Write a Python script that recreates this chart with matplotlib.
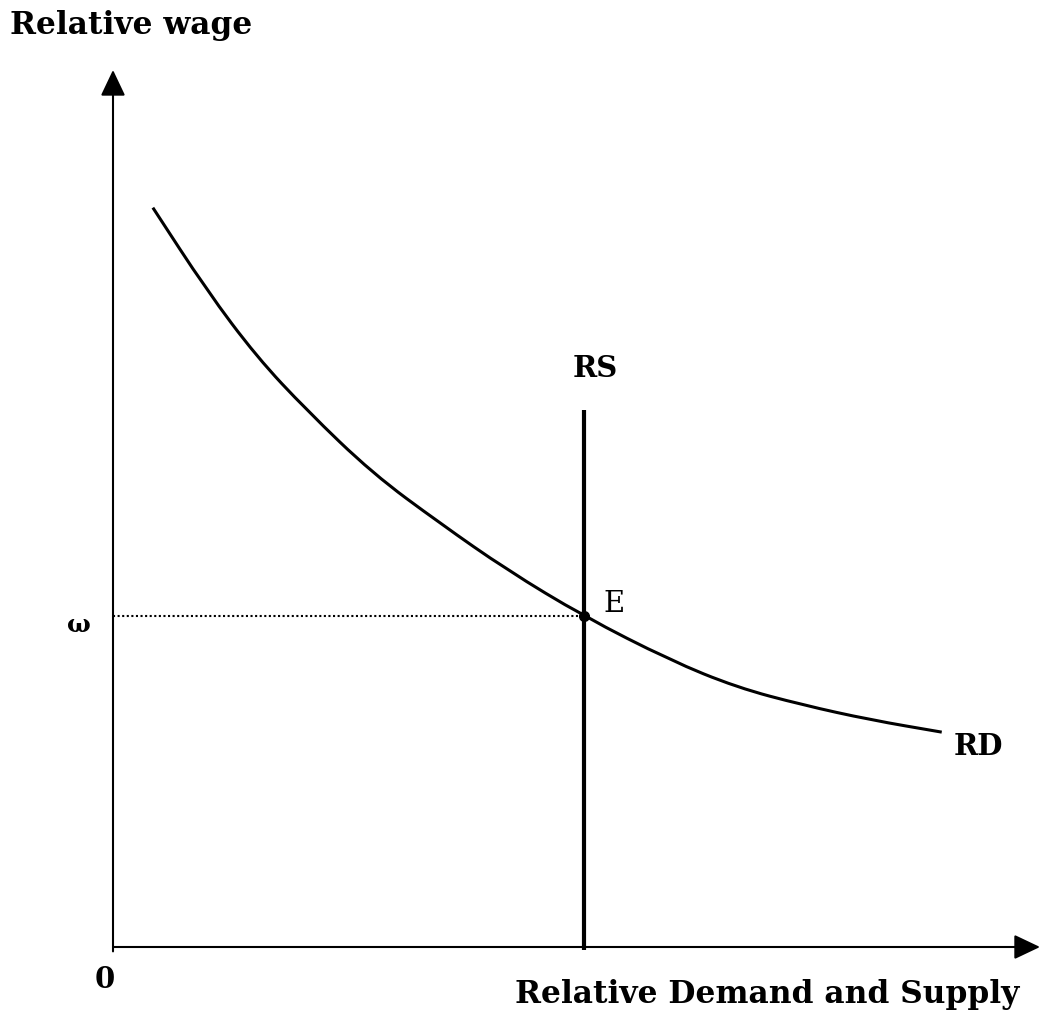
import numpy as np
import matplotlib as mpl
mpl.use('Agg')
import matplotlib.pyplot as plt
from matplotlib.path import Path
from matplotlib.patches import PathPatch, ArrowStyle

plt.rcParams.update({
    "font.family": "serif",
    "font.serif": ["DejaVu Serif"],
    "font.weight": "bold",
})

# relative demand curve
rd_x = [0.43, 1.01, 1.55, 2.09, 2.80, 3.53, 4.25, 5.08, 6.01, 6.73, 7.44, 8.17, 8.94]
rd_y = [8.43, 7.49, 6.73, 6.12, 5.40, 4.83, 4.30, 3.77, 3.27, 2.96, 2.76, 2.59, 2.45]

# relative supply (vertical) and equilibrium
rs_x = 5.08
rs_top = 6.12
eq_x, eq_y = 5.08, 3.77

x_max = 10.0
y_max = 10.0

fig = plt.figure(figsize=(10.4, 10.19), dpi=100)
ax = fig.add_axes([0, 0, 1, 1])
ax.set_xlim(-1.219, 10.0)
ax.set_ylim(-0.821, 10.798)
ax.axis('off')

# axes with arrows
head = ArrowStyle('-|>', head_length=0.8, head_width=0.38)
ax.annotate('', xy=(x_max, 0), xytext=(0, 0),
            arrowprops=dict(arrowstyle=head, color='black', lw=1.5,
                            mutation_scale=20, shrinkA=0, shrinkB=0))
ax.annotate('', xy=(0, y_max), xytext=(0, -0.05),
            arrowprops=dict(arrowstyle=head, color='black', lw=1.5,
                            mutation_scale=20, shrinkA=0, shrinkB=0))

# smooth RD through the read points (quadratic bezier via midpoints)
pts = np.column_stack([rd_x, rd_y])
verts = [pts[0], (pts[0] + pts[1]) / 2]
codes = [Path.MOVETO, Path.LINETO]
for i in range(1, len(pts) - 1):
    verts += [pts[i], (pts[i] + pts[i + 1]) / 2]
    codes += [Path.CURVE3, Path.CURVE3]
verts.append(pts[-1])
codes.append(Path.LINETO)
ax.add_patch(PathPatch(Path(verts, codes), fill=False, edgecolor='black',
                       lw=2.2, capstyle='butt'))

ax.plot([rs_x, rs_x], [-0.03, rs_top], color='black', lw=3.0, solid_capstyle='butt')
ax.plot([0, eq_x], [eq_y, eq_y], color='black', lw=1.5, linestyle=(0, (1, 1.2)))
ax.plot([eq_x], [eq_y], 'o', color='black', markersize=7)

# labels
fs = 21
ax.text(-1.11, 10.51, "Relative wage", fontsize=22.5, ha='left', va='center')
ax.text(9.78, -0.547, "Relative Demand and Supply", fontsize=22.5, ha='right', va='center')
ax.text(-0.086, -0.376, "0", fontsize=fs, ha='center', va='center')
ax.text(-0.367, 3.67, "ω", fontsize=18, ha='center', va='center')
ax.text(5.20, 6.60, "RS", fontsize=fs, ha='center', va='center')
ax.text(5.40, 3.91, "E", fontsize=fs, ha='center', va='center', fontweight='normal')
ax.text(9.33, 2.29, "RD", fontsize=fs, ha='center', va='center')

plt.savefig("out.png", dpi=100)
plt.close()
